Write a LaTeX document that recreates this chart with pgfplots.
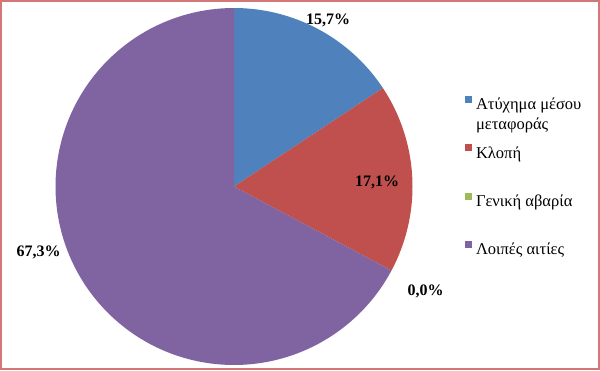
\documentclass[border=0pt]{standalone}
\usepackage{fontspec}
\setmainfont{Liberation Serif}
\usepackage{pgfplots}
\pgfplotsset{compat=1.18}
\definecolor{cblue}{HTML}{4F81BD}
\definecolor{cred}{HTML}{C0504D}
\definecolor{cgreen}{HTML}{9BBB59}
\definecolor{cpurple}{HTML}{8064A2}
\definecolor{cborder}{RGB}{210,120,120}
\begin{document}
\begin{tikzpicture}
\useasboundingbox (0,0) rectangle (600pt,370pt);
\begin{axis}[
  at={(0,0)}, anchor=south west,
  x=1pt, y=1pt, xmin=0, xmax=600, ymin=0, ymax=370,
  scale only axis, hide axis, clip=false,
  legend image code/.code={\fill[#1] (0pt,3pt) rectangle (7pt,10pt);},
  legend cell align=left,
  legend style={at={(axis cs:465,274)}, anchor=north west, draw=none, fill=none,
    inner sep=0pt, outer sep=0pt, row sep=30.3pt, column sep=4pt,
    font=\fontsize{16.5}{20}\selectfont,
    nodes={inner sep=0pt, text height=12pt, text depth=4pt}},
]
% slices clockwise from 90 deg: 15.7, 17.1, 0.0, 67.3 percent
\addplot[fill=cblue, draw=none, domain={90-3.6*15.7}:90, samples=60, variable=\t]
  ({234+178.5*cos(\t)},{183.5+178.5*sin(\t)}) -- (axis cs:234,183.5) -- cycle;
\addlegendentry{\smash{\vtop{\hbox{Ατύχημα μέσου}\hbox{μεταφοράς}}}}
\addplot[fill=cred, draw=none, domain={90-3.6*(15.7+17.1)}:{90-3.6*15.7}, samples=60, variable=\t]
  ({234+178.5*cos(\t)},{183.5+178.5*sin(\t)}) -- (axis cs:234,183.5) -- cycle;
\addlegendentry{Κλοπή}
\addlegendimage{fill=cgreen, draw=none}
\addlegendentry{Γενική αβαρία}
\addplot[fill=cpurple, draw=none, domain=-270:{90-3.6*(15.7+17.1+0.0)}, samples=200, variable=\t]
  ({234+178.5*cos(\t)},{183.5+178.5*sin(\t)}) -- (axis cs:234,183.5) -- cycle;
\addlegendentry{Λοιπές αιτίες}
\node[font=\bfseries\fontsize{16}{16}\selectfont] at (axis cs:328,350) {15,7\%};
\node[font=\bfseries\fontsize{16}{16}\selectfont] at (axis cs:377,188) {17,1\%};
\node[font=\bfseries\fontsize{16}{16}\selectfont] at (axis cs:425.5,79) {0,0\%};
\node[font=\bfseries\fontsize{16}{16}\selectfont] at (axis cs:38.5,118) {67,3\%};
\end{axis}
\draw[cborder, line width=2pt] (1pt,1pt) rectangle (599pt,369pt);
\end{tikzpicture}
\end{document}
